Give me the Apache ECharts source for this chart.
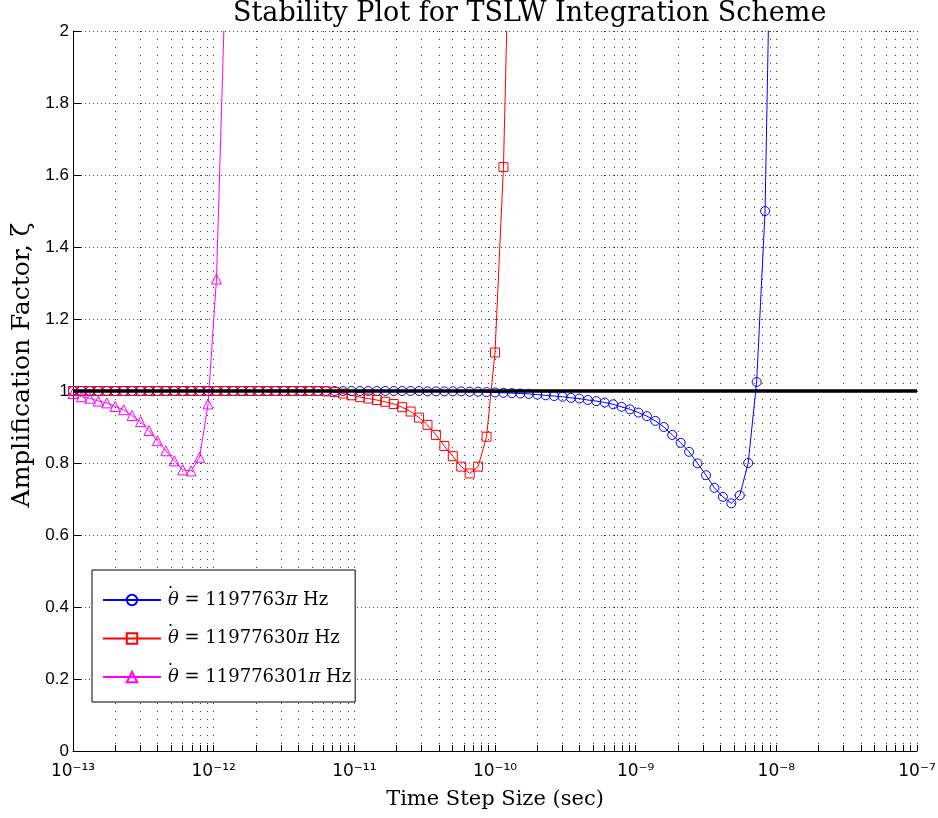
<!DOCTYPE html>
<html>
<head>
<meta charset="utf-8">
<title>Stability Plot for TSLW Integration Scheme</title>
<script src="https://cdn.jsdelivr.net/npm/echarts@6.0.0/dist/echarts.min.js"></script>
<style>
  html, body { margin: 0; padding: 0; background: #fff; }
  #chart { width: 938px; height: 818px; }
</style>
</head>
<body>
<div id="chart"></div>
<script>
// time step sizes, stored as log10(dt / sec)
var stepExp = [
  -13.00, -12.94, -12.88, -12.82, -12.76, -12.70, -12.64, -12.58, -12.52, -12.46,
  -12.40, -12.34, -12.28, -12.22, -12.16, -12.10, -12.04, -11.98, -11.92, -11.86,
  -11.80, -11.74, -11.68, -11.62, -11.56, -11.50, -11.44, -11.38, -11.32, -11.26,
  -11.20, -11.14, -11.08, -11.02, -10.96, -10.90, -10.84, -10.78, -10.72, -10.66,
  -10.60, -10.54, -10.48, -10.42, -10.36, -10.30, -10.24, -10.18, -10.12, -10.06,
  -10.00, -9.94, -9.88, -9.82, -9.76, -9.70, -9.64, -9.58, -9.52, -9.46,
  -9.40, -9.34, -9.28, -9.22, -9.16, -9.10, -9.04, -8.98, -8.92, -8.86,
  -8.80, -8.74, -8.68, -8.62, -8.56, -8.50, -8.44, -8.38, -8.32, -8.26,
  -8.20, -8.14, -8.08, -8.02
];

// amplification factor per step size
var blueVals = [
  1.000, 1.000, 1.000, 1.000, 1.000, 1.000, 1.000, 1.000, 1.000, 1.000,
  1.000, 1.000, 1.000, 1.000, 1.000, 1.000, 1.000, 1.000, 1.000, 1.000,
  1.000, 1.000, 1.000, 1.000, 1.000, 1.000, 1.000, 1.000, 1.000, 1.000,
  1.000, 1.000, 1.000, 1.000, 1.000, 1.000, 1.000, 1.000, 1.000, 1.000,
  1.000, 1.000, 0.999, 0.999, 0.999, 0.999, 0.999, 0.998, 0.998, 0.997,
  0.996, 0.995, 0.994, 0.993, 0.992, 0.990, 0.988, 0.986, 0.984, 0.981,
  0.979, 0.975, 0.972, 0.968, 0.963, 0.956, 0.949, 0.940, 0.930, 0.917,
  0.900, 0.878, 0.856, 0.831, 0.799, 0.766, 0.731, 0.706, 0.688, 0.710,
  0.800, 1.025, 1.500, 2.80
];
var redVals = [
  1.000, 1.000, 1.000, 1.000, 1.000, 1.000, 1.000, 1.000, 1.000, 1.000,
  1.000, 1.000, 1.000, 1.000, 1.000, 1.000, 1.000, 1.000, 1.000, 1.000,
  1.000, 1.000, 1.000, 1.000, 1.000, 1.000, 1.000, 1.000, 1.000, 1.000,
  0.999, 0.997, 0.993, 0.988, 0.983, 0.979, 0.975, 0.970, 0.964, 0.955,
  0.943, 0.926, 0.906, 0.878, 0.847, 0.819, 0.790, 0.771, 0.790, 0.873,
  1.107, 1.622, 2.60
];
var magentaVals = [
  0.993, 0.984, 0.980, 0.972, 0.967, 0.957, 0.948, 0.932, 0.915, 0.890,
  0.862, 0.834, 0.806, 0.781, 0.778, 0.816, 0.964, 1.311, 2.10
];

var seriesNames = [
  '\u03B8\u0307 = 1197763\u03C0 Hz',
  '\u03B8\u0307 = 11977630\u03C0 Hz',
  '\u03B8\u0307 = 119776301\u03C0 Hz'
];
var decades = [-13, -12, -11, -10, -9, -8, -7];
var minorMult = [2, 3, 4, 5, 6, 7, 8, 9];

// tick positions on the log10 scale: decades plus 2..9 within each decade
var tickExp = [];
decades.forEach(function (d, i) {
  tickExp.push(d);
  if (i < decades.length - 1) {
    minorMult.forEach(function (m) { tickExp.push(d + Math.log10(m)); });
  }
});

var supChars = { '-': '\u207B', '0': '\u2070', '1': '\u00B9', '2': '\u00B2', '3': '\u00B3',
  '4': '\u2074', '5': '\u2075', '6': '\u2076', '7': '\u2077', '8': '\u2078', '9': '\u2079' };
function powerLabel(v) {
  return '10' + String(Math.round(v)).split('').map(function (c) { return supChars[c]; }).join('');
}

function pairs(vals) {
  return vals.map(function (v, i) { return [stepExp[i], v]; });
}

var serif = 'DejaVu Serif';
var sans = 'Liberation Sans';
var gridV = { color: '#444', width: 1, type: [1, 7] };
var gridH = { color: '#444', width: 1, type: [1, 3] };

function curve(name, vals, color, symbol, size) {
  return {
    name: name,
    type: 'line',
    data: pairs(vals),
    symbol: symbol,
    symbolSize: size,
    showAllSymbol: true,
    clip: true,
    lineStyle: { color: color, width: 1 },
    itemStyle: { color: 'rgba(0,0,0,0)', borderColor: color, borderWidth: 1 },
    emphasis: { disabled: true },
    z: 2
  };
}

var chart = echarts.init(document.getElementById('chart'));
chart.setOption({
  animation: false,
  backgroundColor: '#fff',
  title: {
    text: 'Stability Plot for TSLW Integration Scheme',
    left: 233, top: 0, padding: 0,
    textStyle: { fontFamily: serif, fontSize: 27, fontWeight: 'normal', color: '#000' }
  },
  grid: { left: 73, right: 21, top: 31, bottom: 67, containLabel: false, outerBoundsMode: 'none' },
  legend: {
    data: seriesNames,
    orient: 'vertical',
    left: 92, top: 570,
    padding: [16, 4, 11, 10],
    itemGap: 10.5, itemWidth: 58, itemHeight: 13,
    backgroundColor: '#fff', borderColor: '#000', borderWidth: 1, borderRadius: 0,
    selectedMode: false,
    textStyle: {
      fontFamily: serif, fontSize: 18, color: '#000', lineHeight: 28,
      rich: {
        dot: { fontFamily: serif, fontSize: 18, lineHeight: 18, width: 0, verticalAlign: 'top', color: '#000' },
        th: { fontFamily: serif, fontStyle: 'italic', fontSize: 18, lineHeight: 28, color: '#000', padding: [0, 0, 0, 2] },
        p: { fontFamily: serif, fontStyle: 'italic', fontSize: 18, lineHeight: 28, color: '#000' }
      }
    },
    formatter: function (name) {
      return name.replace('\u03B8\u0307', '{dot|\u02D9}{th|\u03B8}').replace('\u03C0', '{p|\u03C0}');
    }
  },
  xAxis: {
    type: 'value', min: -13, max: -7,
    name: 'Time Step Size (sec)', nameLocation: 'middle', nameGap: 38, nameMoveOverlap: false,
    nameTextStyle: { fontFamily: serif, fontSize: 21, color: '#000' },
    axisLine: { onZero: false, lineStyle: { color: '#000', width: 1 } },
    axisTick: { inside: true, length: 6, customValues: tickExp, lineStyle: { color: '#000' } },
    axisLabel: {
      customValues: decades,
      showMinLabel: true, showMaxLabel: true, margin: 12, color: '#000',
      fontFamily: 'DejaVu Sans', fontSize: 17,
      formatter: powerLabel
    },
    splitLine: { show: true, lineStyle: gridV }
  },
  yAxis: {
    type: 'value', min: 0, max: 2, interval: 0.2,
    name: 'Amplification Factor, \u03B6', nameLocation: 'middle', nameGap: 38.5, nameMoveOverlap: false,
    nameTextStyle: { fontFamily: serif, fontSize: 25, color: '#000', padding: [0, 0, 0, 52] },
    axisLine: { show: true, lineStyle: { color: '#000', width: 1 } },
    axisTick: { show: true, inside: true, length: 8, lineStyle: { color: '#000' } },
    axisLabel: { fontFamily: sans, fontSize: 17, color: '#000', margin: 4 },
    splitLine: { show: true, lineStyle: gridH }
  },
  series: [
    curve(seriesNames[0], blueVals, '#0000ff', 'circle', 9),
    curve(seriesNames[1], redVals, '#ff0000', 'rect', 9),
    curve(seriesNames[2], magentaVals, '#ff00ff', 'triangle', 10),
    {
      name: 'unity',
      type: 'line',
      data: [[-13, 1], [-7, 1]],
      symbol: 'none',
      silent: true,
      lineStyle: { color: '#000', width: 3.5 },
      emphasis: { disabled: true },
      z: 3
    }
  ]
});
</script>
</body>
</html>
